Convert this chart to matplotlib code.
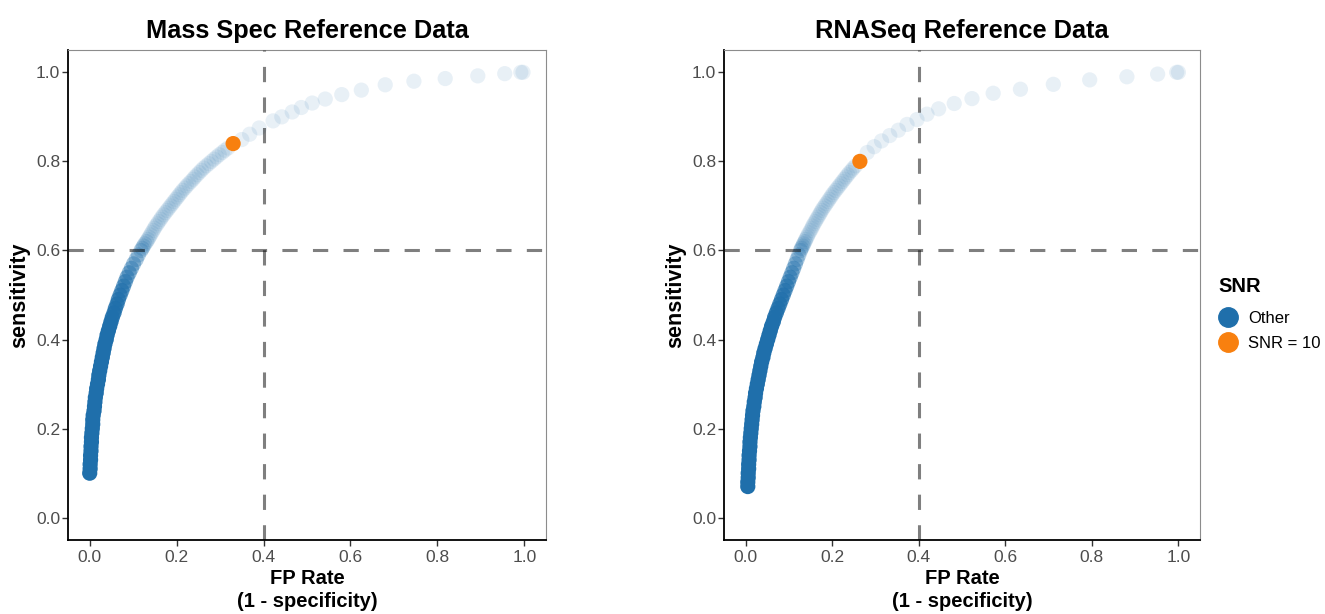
import matplotlib
matplotlib.use("Agg")
import matplotlib.pyplot as plt
import numpy as np
from matplotlib.lines import Line2D

plt.rcParams['font.family'] = ['Liberation Sans', 'DejaVu Sans']

# ---- data (FP rate, sensitivity) ----
# Mass Spec panel
ms_sens = [0.10, 0.11, 0.12, 0.13, 0.14, 0.15, 0.16, 0.17, 0.18, 0.19,
           0.20, 0.21, 0.22, 0.23, 0.24, 0.25, 0.26, 0.27, 0.28, 0.29,
           0.30, 0.31, 0.32, 0.33, 0.34, 0.35, 0.36, 0.37, 0.38, 0.39,
           0.40, 0.41, 0.42, 0.43, 0.44, 0.45, 0.46, 0.47, 0.48, 0.49,
           0.50, 0.51, 0.52, 0.53, 0.54, 0.55, 0.56, 0.57, 0.58, 0.59,
           0.600, 0.605, 0.610, 0.615, 0.620, 0.625, 0.630, 0.635, 0.640, 0.645,
           0.650, 0.655, 0.660, 0.665, 0.670, 0.675, 0.680, 0.685, 0.690, 0.695,
           0.700, 0.705, 0.710, 0.715, 0.720, 0.725, 0.730, 0.735, 0.740, 0.745,
           0.750, 0.755, 0.760, 0.765, 0.770, 0.775, 0.780, 0.785, 0.790, 0.795,
           0.800, 0.805, 0.810, 0.815, 0.820, 0.825, 0.830,
           0.849, 0.861, 0.875, 0.891, 0.900, 0.911, 0.921, 0.931, 0.940,
           0.950, 0.960, 0.972, 0.980, 0.986, 0.992, 0.997, 1.0, 1.0]
ms_fpr = [0.000, 0.001, 0.001, 0.002, 0.002, 0.003, 0.003, 0.004, 0.004, 0.005,
          0.006, 0.007, 0.007, 0.008, 0.010, 0.011, 0.012, 0.013, 0.015, 0.016,
          0.018, 0.020, 0.021, 0.023, 0.025, 0.027, 0.029, 0.031, 0.033, 0.035,
          0.038, 0.040, 0.043, 0.046, 0.049, 0.052, 0.056, 0.059, 0.063, 0.066,
          0.070, 0.074, 0.078, 0.082, 0.086, 0.091, 0.096, 0.101, 0.107, 0.112,
          0.118, 0.121, 0.124, 0.127, 0.131, 0.134, 0.137, 0.140, 0.143, 0.146,
          0.149, 0.152, 0.156, 0.159, 0.163, 0.166, 0.170, 0.174, 0.178, 0.182,
          0.186, 0.190, 0.194, 0.198, 0.202, 0.206, 0.210, 0.214, 0.219, 0.223,
          0.228, 0.233, 0.238, 0.242, 0.247, 0.252, 0.257, 0.262, 0.268, 0.274,
          0.280, 0.286, 0.292, 0.298, 0.305, 0.311, 0.318,
          0.350, 0.368, 0.390, 0.422, 0.442, 0.466, 0.487, 0.512, 0.542,
          0.580, 0.625, 0.680, 0.746, 0.818, 0.893, 0.955, 0.992, 0.997]
ms_snr10 = (0.330, 0.840)

# RNASeq panel
rna_sens = [0.07, 0.08, 0.09, 0.10, 0.11, 0.12, 0.13, 0.14, 0.15, 0.16,
            0.17, 0.18, 0.19, 0.20, 0.21, 0.22, 0.23, 0.24, 0.25, 0.26,
            0.27, 0.28, 0.29, 0.30, 0.31, 0.32, 0.33, 0.34, 0.35, 0.36,
            0.37, 0.38, 0.39, 0.40, 0.41, 0.42, 0.43, 0.44, 0.45, 0.46,
            0.47, 0.48, 0.49, 0.50, 0.51, 0.52, 0.53, 0.54, 0.55, 0.56,
            0.57, 0.58, 0.59,
            0.600, 0.605, 0.610, 0.615, 0.620, 0.625, 0.630, 0.635, 0.640, 0.645,
            0.650, 0.655, 0.660, 0.665, 0.670, 0.675, 0.680, 0.685, 0.690, 0.695,
            0.700, 0.705, 0.710, 0.715, 0.720, 0.725, 0.730, 0.735, 0.740, 0.745,
            0.750, 0.755, 0.760, 0.765, 0.770, 0.775, 0.780, 0.785, 0.790,
            0.820, 0.833, 0.846, 0.858, 0.870, 0.883, 0.894, 0.906, 0.918,
            0.930, 0.941, 0.953, 0.962, 0.973, 0.983, 0.990, 0.996, 1.0, 1.0]
rna_fpr = [0.005, 0.005, 0.006, 0.006, 0.007, 0.007, 0.008, 0.008, 0.009, 0.010,
           0.010, 0.011, 0.012, 0.013, 0.014, 0.015, 0.016, 0.017, 0.019, 0.020,
           0.022, 0.023, 0.025, 0.027, 0.029, 0.031, 0.033, 0.035, 0.037, 0.040,
           0.042, 0.045, 0.048, 0.051, 0.054, 0.057, 0.060, 0.064, 0.067, 0.071,
           0.075, 0.079, 0.083, 0.087, 0.091, 0.095, 0.099, 0.103, 0.107, 0.111,
           0.115, 0.119, 0.123,
           0.127, 0.129, 0.132, 0.134, 0.137, 0.139, 0.142, 0.144, 0.147, 0.150,
           0.153, 0.155, 0.158, 0.161, 0.164, 0.167, 0.170, 0.173, 0.176, 0.179,
           0.183, 0.186, 0.190, 0.193, 0.197, 0.200, 0.204, 0.208, 0.212, 0.216,
           0.220, 0.224, 0.228, 0.232, 0.236, 0.240, 0.245, 0.249, 0.254,
           0.281, 0.297, 0.314, 0.333, 0.353, 0.373, 0.396, 0.419, 0.446,
           0.482, 0.523, 0.572, 0.635, 0.711, 0.795, 0.881, 0.952, 0.996, 1.0]
rna_snr10 = (0.264, 0.800)

fpr_cut = 0.4
sens_cut = 0.6

blue = '#1f6fab'
orange = '#f8800f'

fig = plt.figure(figsize=(13.25, 6.14), dpi=100)
ax1 = fig.add_axes([0.0513, 0.1205, 0.3608, 0.798])
ax2 = fig.add_axes([0.5464, 0.1205, 0.3593, 0.798])


def draw_panel(ax, fpr, sens, snr10, title):
    sens = np.array(sens)
    # transparency fades along the curve, like the reference
    alphas = np.clip(1.0 - (sens - 0.43) * 4.4, 0.1, 1.0)
    colors = [matplotlib.colors.to_rgba(blue, a) for a in alphas]
    ax.scatter(fpr, sens, s=120, c=colors, edgecolors='none', zorder=2)
    ax.scatter([snr10[0]], [snr10[1]], s=120, c=orange, edgecolors='none', zorder=3)

    ax.axvline(fpr_cut, color='black', alpha=0.5, lw=2.2, ls=(0, (5, 5)), zorder=4)
    ax.axhline(sens_cut, color='black', alpha=0.5, lw=2.2, ls=(0, (5, 5)), zorder=4)

    ax.set_xlim(-0.05, 1.05)
    ax.set_ylim(-0.05, 1.05)
    ax.set_xticks(np.arange(0, 1.01, 0.2))
    ax.set_yticks(np.arange(0, 1.01, 0.2))
    ax.set_xticklabels(['0.0', '0.2', '0.4', '0.6', '0.8', '1.0'])
    ax.set_yticklabels(['0.0', '0.2', '0.4', '0.6', '0.8', '1.0'])
    ax.tick_params(length=4, width=1, color='#333333', labelcolor='#4d4d4d',
                   labelsize=12.5)
    ax.tick_params(axis='y', pad=1.5)
    ax.tick_params(axis='x', pad=3)

    for side in ['top', 'right']:
        ax.spines[side].set_color('#8c8c8c')
        ax.spines[side].set_linewidth(0.8)
    for side in ['left', 'bottom']:
        ax.spines[side].set_color('black')
        ax.spines[side].set_linewidth(1.3)

    ax.set_title(title, fontsize=18.3, fontweight='bold', pad=9)
    ax.set_xlabel('FP Rate\n(1 - specificity)', fontsize=14.5, fontweight='bold',
                  labelpad=3, linespacing=1.3)
    ax.set_ylabel('sensitivity', fontsize=15.5, fontweight='bold', labelpad=4)


draw_panel(ax1, ms_fpr, ms_sens, ms_snr10, 'Mass Spec Reference Data')
draw_panel(ax2, rna_fpr, rna_sens, rna_snr10, 'RNASeq Reference Data')

# legend: title as separate text so the gap to the keys matches
fig.text(0.9192, 1 - 287 / 614, 'SNR', fontsize=14.5, fontweight='bold',
         ha='left', va='center')
handles = [Line2D([], [], marker='o', ls='none', color=blue, markersize=14),
           Line2D([], [], marker='o', ls='none', color=orange, markersize=14)]
leg = fig.legend(handles, ['Other', 'SNR = 10'],
                 loc='upper left', bbox_to_anchor=(0.9192, 0.4935),
                 frameon=False, fontsize=12, handletextpad=0.6,
                 labelspacing=0.6, borderaxespad=0, handlelength=1.2,
                 borderpad=0)

fig.savefig('out.png', dpi=100)
